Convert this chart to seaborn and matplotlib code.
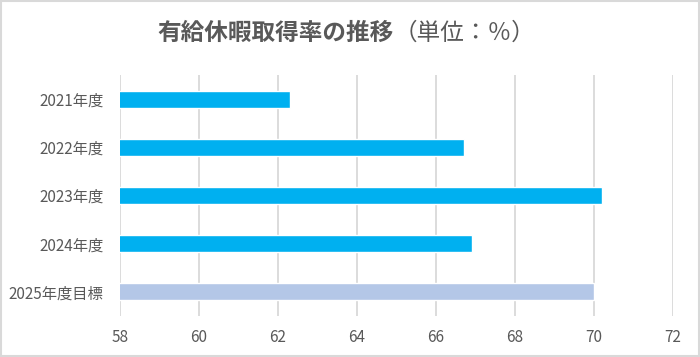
import matplotlib
matplotlib.use("Agg")
import matplotlib.pyplot as plt
import seaborn as sns
import pandas as pd
from matplotlib.patches import Rectangle

categories = ["2021年度", "2022年度", "2023年度", "2024年度", "2025年度目標"]
values = [62.3, 66.7, 70.2, 66.9, 70.0]
bar_colors = ["#00B0F0", "#00B0F0", "#00B0F0", "#00B0F0", "#B4C7E7"]
x_ticks = [58, 60, 62, 64, 66, 68, 70, 72]
title_main = "有給休暇取得率の推移"
title_unit = "（単位：％）"

sns.set_theme(style="white")
plt.rcParams["font.family"] = ["Noto Sans CJK JP", "DejaVu Sans"]

df = pd.DataFrame({"category": categories, "value": values})

fig = plt.figure(figsize=(7.0, 3.57), dpi=100)
ax = fig.add_axes([120 / 700, 1 - 316 / 357, 553 / 700, 241 / 357])

sns.barplot(data=df, y="category", x="value", hue="category",
            palette=dict(zip(categories, bar_colors)), orient="h",
            width=0.35, legend=False, ax=ax, saturation=1, zorder=3)

ax.set_xlim(58, 72)
ax.set_xticks(x_ticks)
ax.set_xticklabels([str(t) for t in x_ticks])
ax.set_ylim(4.5, -0.5)
ax.set_xlabel("")
ax.set_ylabel("")
ax.grid(axis="x", color="#D9D9D9", linewidth=1.3, zorder=0)
ax.grid(axis="y", visible=False)
for s in ax.spines.values():
    s.set_visible(False)
ax.tick_params(axis="x", length=0, pad=9, labelsize=11, labelcolor="#595959")
ax.tick_params(axis="y", length=0, pad=12, labelsize=11, labelcolor="#595959")
ax.set_axisbelow(True)

t1 = fig.text(157 / 700, 1 - 33 / 357, title_main, ha="left", va="center",
              fontsize=17, fontweight="bold", color="#595959")
ax.annotate(title_unit, xy=(1, 0.5), xycoords=t1, ha="left", va="center",
            fontsize=17, color="#595959", annotation_clip=False)

fig.patches.append(Rectangle((0.001, 0.002), 0.998, 0.996, transform=fig.transFigure,
                             fill=False, edgecolor="#D9D9D9", linewidth=1.5))

fig.savefig("out.png", dpi=100, facecolor="white")
